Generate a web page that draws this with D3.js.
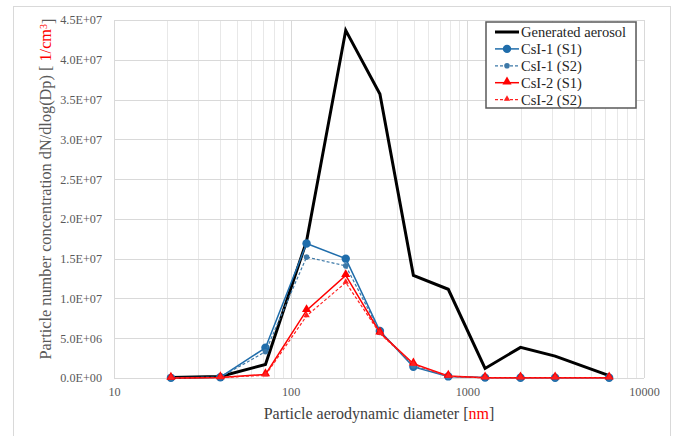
<!DOCTYPE html>
<html>
<head>
<meta charset="utf-8">
<script src="https://cdn.jsdelivr.net/npm/d3@7"></script>
<style>
  html, body { margin: 0; padding: 0; background: #fff; }
</style>
</head>
<body>
<div id="chart"></div>
<script>
(function () {
  'use strict';

  var FONT = "'Liberation Serif', 'DejaVu Serif', 'Times New Roman', serif";

  // Particle aerodynamic diameter (nm), one point per impactor stage
  var diameters = [21, 40, 72, 123, 205, 320, 495, 780, 1260, 2000, 3140, 6350];

  // dN/dlog(Dp) [1/cm3]
  var generatedAerosol = [0.05e6, 0.2e6, 1.7e6, 17.2e6, 43.7e6, 35.7e6, 12.9e6, 11.15e6, 1.2e6, 3.85e6, 2.75e6, 0.3e6];
  var csi1S1 = [0.02e6, 0.1e6, 3.8e6, 16.9e6, 15.0e6, 5.9e6, 1.4e6, 0.2e6, 0.05e6, 0.04e6, 0.03e6, 0.03e6];
  var csi1S2 = [0.02e6, 0.1e6, 3.3e6, 15.2e6, 14.1e6, 5.8e6, 1.5e6, 0.2e6, 0.05e6, 0.04e6, 0.03e6, 0.03e6];
  var csi2S1 = [0.0, 0.05e6, 0.45e6, 8.5e6, 12.9e6, 5.7e6, 1.8e6, 0.25e6, 0.02e6, 0.02e6, 0.02e6, 0.02e6];
  var csi2S2 = [0.0, 0.05e6, 0.35e6, 7.8e6, 12.0e6, 5.6e6, 1.7e6, 0.2e6, 0.02e6, 0.02e6, 0.02e6, 0.02e6];

  var xTicks = [10, 100, 1000, 10000];
  var yTicks = [0, 5e6, 1e7, 1.5e7, 2e7, 2.5e7, 3e7, 3.5e7, 4e7, 4.5e7];

  var series = [
    { name: 'Generated aerosol', values: generatedAerosol, color: '#000000', width: 3, dash: null, marker: null },
    { name: 'CsI-1 (S1)', values: csi1S1, color: '#1f6dab', width: 1.5, dash: null, marker: 'circle', size: 4.2 },
    { name: 'CsI-1 (S2)', values: csi1S2, color: '#3d79a8', width: 1.2, dash: '3,2', marker: 'circle', size: 2.8 },
    { name: 'CsI-2 (S1)', values: csi2S1, color: '#ff0000', width: 1.5, dash: null, marker: 'triangle', size: 4.6 },
    { name: 'CsI-2 (S2)', values: csi2S2, color: '#ff2020', width: 1.2, dash: '3,2', marker: 'triangle', size: 3.2 }
  ];

  var W = 674, H = 436;
  var margin = { top: 20, right: 30, bottom: 58, left: 114 };
  var plotR = 644, plotB = 378;

  var svg = d3.select('#chart').append('svg').attr('width', W).attr('height', H);

  // outer figure frame
  svg.append('rect')
    .attr('x', 13.5).attr('y', 6.5)
    .attr('width', 657).attr('height', 440)
    .attr('fill', '#fff').attr('stroke', '#d9d9d9').attr('stroke-width', 1);

  var x = d3.scaleLog().domain([10, 10000]).range([margin.left, plotR]);
  var y = d3.scaleLinear().domain([0, 4.5e7]).range([plotB, margin.top]);

  var grid = svg.append('g');

  // minor log gridlines
  var minor = [];
  [10, 100, 1000].forEach(function (dec) {
    for (var k = 2; k <= 9; k++) minor.push(dec * k);
  });
  grid.selectAll('.minor').data(minor).enter().append('line')
    .attr('x1', function (d) { return Math.round(x(d)) + 0.5; })
    .attr('x2', function (d) { return Math.round(x(d)) + 0.5; })
    .attr('y1', y(4.5e7)).attr('y2', plotB)
    .attr('stroke', '#e8e8e8').attr('stroke-width', 1);

  grid.selectAll('.xmajor').data(xTicks).enter().append('line')
    .attr('x1', function (d) { return Math.round(x(d)) + 0.5; })
    .attr('x2', function (d) { return Math.round(x(d)) + 0.5; })
    .attr('y1', y(4.5e7)).attr('y2', plotB)
    .attr('stroke', '#d9d9d9').attr('stroke-width', 1);

  grid.selectAll('.ymajor').data(yTicks).enter().append('line')
    .attr('x1', margin.left).attr('x2', plotR)
    .attr('y1', function (d) { return Math.round(y(d)) + 0.5; })
    .attr('y2', function (d) { return Math.round(y(d)) + 0.5; })
    .attr('stroke', '#d9d9d9').attr('stroke-width', 1);

  // Y axis labels
  function sci(v) {
    if (v === 0) return '0.0E+00';
    var e = Math.floor(Math.log10(v) + 1e-9);
    var m = v / Math.pow(10, e);
    return m.toFixed(1) + 'E+' + (e < 10 ? '0' : '') + e;
  }
  var yAxis = svg.append('g')
    .attr('transform', 'translate(' + margin.left + ',0)')
    .call(d3.axisLeft(y).tickValues(yTicks).tickFormat(sci).tickSize(0).tickPadding(12));
  yAxis.attr('font-family', FONT).attr('font-size', 12.2);
  yAxis.select('.domain').remove();
  yAxis.selectAll('text').attr('fill', '#595959');

  // X axis labels
  var xAxis = svg.append('g')
    .attr('transform', 'translate(0,' + plotB + ')')
    .call(d3.axisBottom(x).tickValues(xTicks).tickFormat(d3.format('d')).tickSize(0).tickPadding(9));
  xAxis.attr('font-family', FONT).attr('font-size', 12.2);
  xAxis.select('.domain').remove();
  xAxis.selectAll('text').attr('fill', '#595959');

  // Series
  var line = d3.line()
    .x(function (d) { return x(d[0]); })
    .y(function (d) { return y(d[1]); });

  var tri = d3.symbol().type(d3.symbolTriangle);

  function drawMarker(sel, s, cx, cy) {
    if (s.marker === 'circle') {
      sel.append('circle').attr('cx', cx).attr('cy', cy).attr('r', s.size).attr('fill', s.color);
    } else if (s.marker === 'triangle') {
      var area = Math.pow(s.size * 2, 2) * Math.sqrt(3) / 4;
      sel.append('path')
        .attr('d', tri.size(area)())
        .attr('transform', 'translate(' + cx + ',' + (cy - s.size * 0.2) + ')')
        .attr('fill', s.color);
    }
  }

  series.forEach(function (s) {
    var pts = diameters.map(function (d, i) { return [d, s.values[i]]; });
    var g = svg.append('g');
    g.append('path')
      .attr('d', line(pts))
      .attr('fill', 'none')
      .attr('stroke', s.color)
      .attr('stroke-width', s.width)
      .attr('stroke-linejoin', 'miter')
      .attr('stroke-dasharray', s.dash);
    if (s.marker) {
      pts.forEach(function (p) { drawMarker(g, s, x(p[0]), y(p[1])); });
    }
  });

  // Legend
  var lg = svg.append('g').attr('transform', 'translate(486,22)');
  lg.append('rect')
    .attr('width', 150).attr('height', 86)
    .attr('fill', '#fff').attr('stroke', '#595959').attr('stroke-width', 1.5);
  series.forEach(function (s, i) {
    var cy = 10 + i * 16.9;
    var row = lg.append('g');
    row.append('line')
      .attr('x1', 9).attr('x2', 33).attr('y1', cy).attr('y2', cy)
      .attr('stroke', s.color).attr('stroke-width', s.width)
      .attr('stroke-dasharray', s.dash);
    if (s.marker) drawMarker(row, s, 21, cy);
    row.append('text')
      .attr('x', 35).attr('y', cy).attr('dy', '0.35em')
      .attr('fill', '#262626')
      .attr('font-family', FONT)
      .attr('font-size', 14.5)
      .text(s.name);
  });

  // Axis titles
  var xt = svg.append('text')
    .attr('x', 379).attr('y', 419)
    .attr('text-anchor', 'middle')
    .attr('fill', '#404040')
    .attr('font-family', FONT)
    .attr('font-size', 16);
  xt.append('tspan').text('Particle aerodynamic diameter [');
  xt.append('tspan').attr('fill', '#ff0000').text('nm');
  xt.append('tspan').text(']');

  var yt = svg.append('text')
    .attr('transform', 'translate(51,189) rotate(-90)')
    .attr('text-anchor', 'middle')
    .attr('fill', '#595959')
    .attr('font-family', FONT)
    .attr('font-size', 16.3);
  yt.append('tspan').text('Particle number concentration dN/dlog(Dp) [ ');
  yt.append('tspan').attr('fill', '#ff0000').text('1/cm');
  yt.append('tspan').attr('fill', '#ff0000').attr('dy', '-0.4em').attr('font-size', 10).text('3');
  yt.append('tspan').attr('dy', '0.4em').text(']');
})();
</script>
</body>
</html>
